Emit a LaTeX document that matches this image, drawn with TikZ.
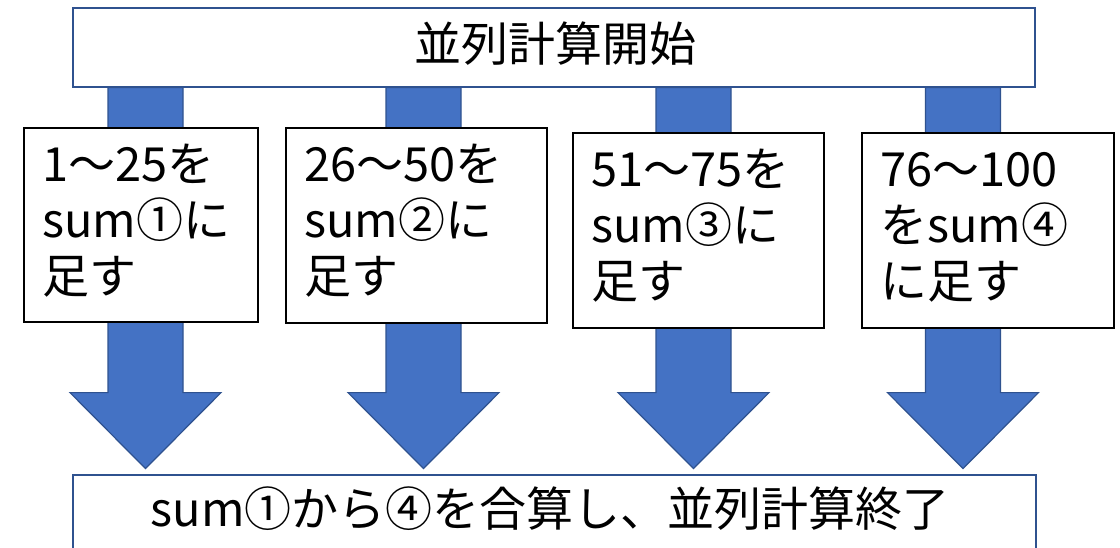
\documentclass[tikz,border=0pt]{standalone}
\usepackage{fontspec}
\setmainfont{Noto Sans CJK JP}
\usetikzlibrary{calc}
\definecolor{ablue}{HTML}{4472C4}
\definecolor{eblue}{HTML}{2F528F}
\begin{document}
\begin{tikzpicture}[x=1pt,y=-1pt,
  bigbox/.style={draw=eblue, line width=1.6pt, fill=white, inner sep=0pt, minimum width=962pt, minimum height=79pt},
  stepbox/.style={draw=black, line width=1.8pt, fill=white, inner sep=0pt, anchor=north west},
  boxtext/.style={anchor=base west, align=left, inner sep=0pt, font=\fontsize{47}{56}\selectfont},
  bigtext/.style={inner sep=0pt, font=\fontsize{47}{56}\selectfont},
  barrow/.style={fill=ablue, draw=eblue, line width=1.2pt, line join=miter}]
\useasboundingbox (0,0) rectangle (1120,548);
\clip (0,0) rectangle (1120,548);
\fill[white] (0,0) rectangle (1120,548);
% top box (position)
\node[bigbox, anchor=north west] (top) at (72,7) {};
% block arrows
\foreach \n/\x in {1/145.5, 2/423.5, 3/693.5, 4/963}{
  \coordinate (a\n) at (\x,0 |- top.south);
  \draw[barrow] (a\n) ++(-37.5,0) -- ++(0,305) -- ++(-38,0) -- ++(75.5,76)
     -- ++(75.5,-76) -- ++(-38,0) -- ++(0,-305) -- cycle;
}
% redraw top box over arrow tops
\node[bigbox, anchor=north west] (topb) at (72,7) {};
\node[bigtext] (toptext) at (555,44) {並列計算開始};
% step boxes
\node[stepbox, minimum width=234pt, minimum height=194pt] (b1) at (23,127) {};
\node[stepbox, minimum width=261pt, minimum height=195pt] (b2) at (285,127) {};
\node[stepbox, minimum width=251pt, minimum height=195pt] (b3) at (572,132) {};
\node[stepbox, minimum width=252pt, minimum height=195pt] (b4) at (861,132) {};
% base anchor of a multi-line node is the last line's baseline
\node[boxtext] (t1) at ($(b1.north west)+(19,167)$) {1～25を\\sum①に\\足す};
\node[boxtext] (t2) at ($(b2.north west)+(19,167)$) {26～50を\\sum②に\\足す};
\node[boxtext] (t3) at ($(b3.north west)+(19,167)$) {51～75を\\sum③に\\足す};
\node[boxtext] (t4) at ($(b4.north west)+(19,167)$) {76～100\\をsum④\\に足す};
% bottom box
\node[bigbox, anchor=north west, minimum width=963pt, minimum height=100pt] (bot) at (72,474) {};
\node[bigtext] (bottext) at (550,509) {sum①から④を合算し、並列計算終了};
\end{tikzpicture}
\end{document}
